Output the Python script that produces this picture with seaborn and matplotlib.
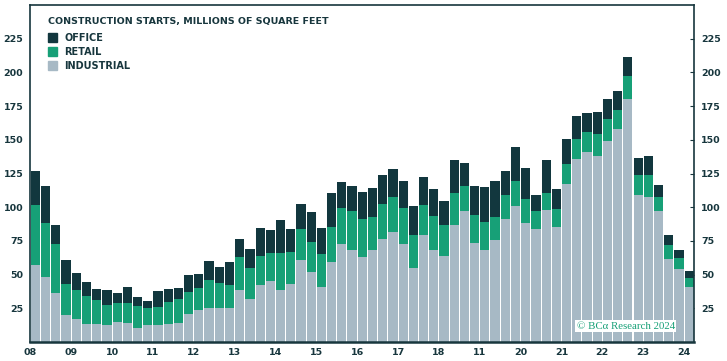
import numpy as np
import pandas as pd
import seaborn as sns
import matplotlib.pyplot as plt
from matplotlib.patches import Patch

# quarterly construction starts, 2008Q1 - 2024Q1 (millions of sq ft)
quarters = [f"{y}Q{q}" for y in range(2008, 2025) for q in range(1, 5)][:65]

industrial = [57.2, 48.3, 36.4, 20.0, 17.1, 13.4, 13.4, 12.6, 14.8, 14.1, 10.4, 12.6,
              12.6, 13.4, 14.1, 20.8, 23.8, 25.2, 25.2, 25.2, 38.6, 31.9, 42.3, 45.3,
              38.6, 43.1, 60.9, 52.0, 40.8, 59.4, 72.8, 68.3, 63.1, 68.3, 76.5, 81.7,
              72.8, 54.9, 79.4, 68.3, 63.8, 86.9, 97.3, 73.5, 68.3, 75.7, 91.3, 101.0,
              88.3, 83.9, 98.0, 85.4, 117.3, 135.9, 141.1, 138.1, 149.2, 158.1, 180.4,
              109.1, 107.6, 97.3, 61.6, 54.2, 40.8]
retail = [44.5, 40.0, 36.4, 23.1, 21.5, 20.7, 17.8, 14.9, 14.2, 14.9, 16.3, 12.6,
          13.4, 16.3, 17.8, 16.3, 16.3, 20.8, 18.6, 17.1, 24.5, 23.0, 21.5, 20.8,
          27.5, 23.7, 23.0, 22.2, 24.5, 26.0, 26.7, 29.0, 28.2, 24.5, 25.9, 25.9,
          26.7, 24.5, 22.3, 25.2, 23.1, 23.7, 18.5, 20.7, 20.8, 17.1, 17.8, 18.5,
          17.9, 13.4, 12.6, 13.3, 14.8, 14.8, 14.8, 16.3, 16.4, 14.1, 17.1,
          14.9, 16.4, 10.3, 10.4, 8.2, 6.7]
office = [25.3, 27.5, 14.1, 17.8, 12.6, 10.4, 8.1, 11.1, 7.4, 11.8, 6.7, 5.2,
          11.9, 9.6, 8.2, 12.6, 10.4, 14.1, 11.9, 17.1, 13.4, 14.1, 20.8, 17.0,
          24.5, 17.1, 18.5, 22.3, 19.3, 25.2, 19.3, 18.5, 20.1, 21.5, 21.6, 20.8,
          20.0, 21.6, 20.8, 20.1, 17.8, 24.5, 17.1, 21.6, 26.0, 26.7, 17.8, 25.3,
          23.0, 11.8, 24.5, 14.9, 18.6, 17.1, 14.1, 16.3, 14.8, 14.1, 14.1,
          12.6, 14.1, 9.0, 7.4, 5.9, 5.2]

year_labels = ['08', '09', '10', '11', '12', '13', '14', '15', '16', '17', '18',
               '11', '20', '21', '22', '23', '24']
y_ticks = [25, 50, 75, 100, 125, 150, 175, 200, 225]

c_office = '#12373e'
c_retail = '#17a077'
c_ind = '#a7b9c5'
c_text = '#17363d'

df = pd.DataFrame({'quarter': quarters, 'industrial': industrial,
                   'retail': retail, 'office': office})
df['ind_retail'] = df['industrial'] + df['retail']
df['total'] = df['ind_retail'] + df['office']

sns.set_style('white')
plt.rcParams['font.family'] = ['DejaVu Sans']

fig = plt.figure(figsize=(7.27, 3.61), dpi=100)
ax = fig.add_axes([0.0417, 0.0526, 0.9133, 0.9335])

# stacked look: draw cumulative totals back to front
for col, c in [('total', c_office), ('ind_retail', c_retail), ('industrial', c_ind)]:
    sns.barplot(data=df, x='quarter', y=col, color=c, saturation=1, width=0.9,
                errorbar=None, linewidth=0, ax=ax)

ax.set_xlim(-0.5, 64.5)
ax.set_ylim(0, 250)
ax.set_xlabel('')
ax.set_ylabel('')

ax.set_xticks(np.arange(0, 65, 4) - 0.5)
ax.set_xticklabels(year_labels)
ax.set_yticks(y_ticks)
ax.set_yticklabels([str(v) for v in y_ticks])

ax.tick_params(axis='x', direction='in', length=4.5, width=1.5, color=c_text,
               labelsize=6.8, labelcolor=c_text, pad=4)
ax.tick_params(axis='y', direction='in', length=3, width=0.8, color=c_text,
               labelsize=6.8, labelcolor=c_text, pad=5, right=True, labelright=True)
for lab in ax.get_xticklabels() + ax.get_yticklabels():
    lab.set_fontweight('bold')

for side, sp in ax.spines.items():
    sp.set_visible(True)
    sp.set_color(c_text)
    sp.set_linewidth(1.2)
ax.spines['bottom'].set_linewidth(1.8)

# title + legend
ax.text(0.026, 0.95, 'CONSTRUCTION STARTS, MILLIONS OF SQUARE FEET', transform=ax.transAxes,
        fontsize=6.8, fontweight='bold', color=c_text, va='center', ha='left')
handles = [Patch(color=c_office, label='OFFICE'),
           Patch(color=c_retail, label='RETAIL'),
           Patch(color=c_ind, label='INDUSTRIAL')]
leg = ax.legend(handles=handles, loc='upper left', bbox_to_anchor=(0.013, 0.943),
                frameon=False, handlelength=1.0, handleheight=1.0, handletextpad=0.7,
                labelspacing=0.4, prop={'weight': 'bold', 'size': 7})
for t in leg.get_texts():
    t.set_color(c_text)

ax.text(0.971, 0.047, '\u00a9 BC\u03b1 Research 2024', transform=ax.transAxes,
        fontsize=7.8, family='Liberation Serif', color=c_retail, ha='right', va='center',
        bbox=dict(facecolor='white', edgecolor='none', pad=1.0))

plt.savefig('out.png', dpi=100)
